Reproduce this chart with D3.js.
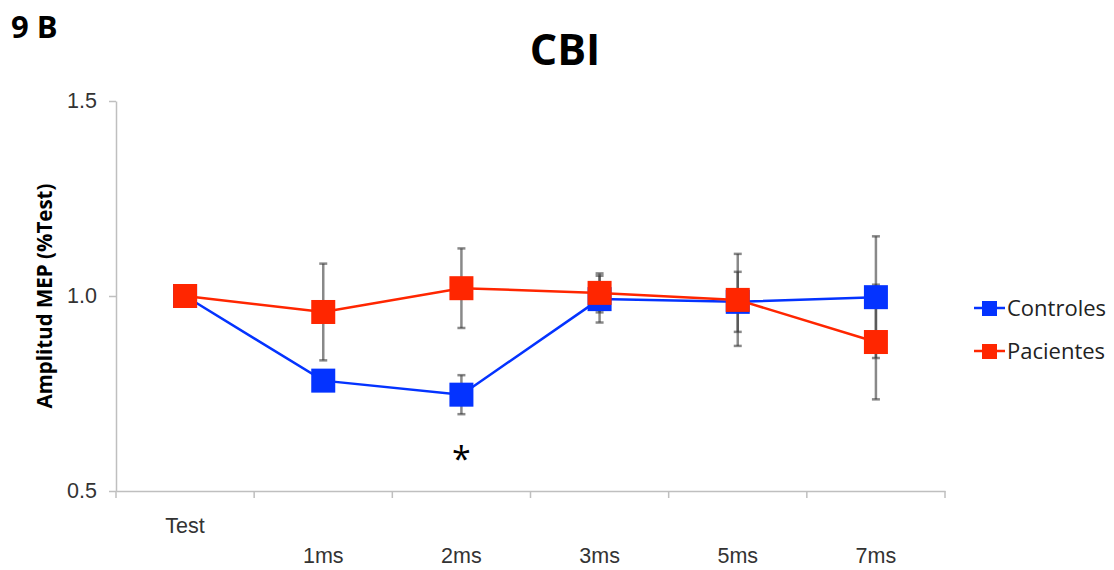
<!DOCTYPE html>
<html>
<head>
<meta charset="utf-8">
<script src="https://cdn.jsdelivr.net/npm/d3@7"></script>
<style>
  body { margin: 0; background: #fff; }
  svg { display: block; font-family: "Open Sans", sans-serif; }
  .axis path, .axis line { stroke: #bfbfbf; stroke-width: 1.5; }
  .axis text { fill: #333; font-size: 21.5px; }
</style>
</head>
<body>
<svg id="chart"></svg>
<script>
const categories = ["Test", "1ms", "2ms", "3ms", "5ms", "7ms"];
const controles = [1.0, 0.783, 0.747, 0.992, 0.985, 0.997];
const controlesErr = [0, 0.02, 0.05, 0.06, 0.077, 0.156];
const pacientes = [1.0, 0.959, 1.02, 1.008, 0.99, 0.882];
const pacientesErr = [0, 0.124, 0.102, 0.05, 0.118, 0.147];
const yTicks = [0.5, 1.0, 1.5];

const width = 1114, height = 570;
const margin = {left: 116, right: 169, top: 101, bottom: 79};

const svg = d3.select("#chart").attr("width", width).attr("height", height);

const x = d3.scaleBand().domain(categories).range([margin.left, width - margin.right]);
const y = d3.scaleLinear().domain([0.5, 1.5]).range([height - margin.bottom, margin.top]);

const series = [
    {name: "Controles", values: controles, err: controlesErr, color: "#0433ff"},
    {name: "Pacientes", values: pacientes, err: pacientesErr, color: "#ff2600"}
];

// y axis
svg.append("g")
    .attr("class", "axis y")
    .attr("transform", `translate(${margin.left},0)`)
    .call(d3.axisLeft(y).tickValues(yTicks).tickFormat(d3.format(".1f")).tickSize(7).tickSizeOuter(0).tickPadding(12));

// x axis: labels at band centres, staggered like Excel
let xAxis = svg.append("g")
    .attr("class", "axis x")
    .attr("transform", `translate(0,${y(0.5)})`)
    .call(d3.axisBottom(x).tickSize(0).tickSizeOuter(0));
xAxis.selectAll(".tick text")
    .attr("y", (d, i) => i === 0 ? 42 : 72)
    .attr("dy", 0);

// x axis boundary ticks
let bounds = categories.map(c => x(c)).concat([x(categories[categories.length - 1]) + x.bandwidth()]);
xAxis.selectAll(".bound")
    .data(bounds)
    .join("line")
    .attr("class", "bound")
    .attr("x1", d => d).attr("x2", d => d)
    .attr("y1", 0).attr("y2", 7);

// error bars
const cx = c => x(c) + x.bandwidth() / 2;
series.forEach(s => {
    let g = svg.append("g").attr("class", "err")
        .attr("stroke", "#3a3a3a").attr("stroke-opacity", 0.6).attr("stroke-width", 2.5);
    let pts = categories.map((c, i) => ({c, v: s.values[i], e: s.err[i]})).filter(d => d.e > 0);
    g.selectAll(".bar").data(pts).join("line")
        .attr("x1", d => cx(d.c)).attr("x2", d => cx(d.c))
        .attr("y1", d => y(d.v + d.e)).attr("y2", d => y(d.v - d.e));
    g.selectAll(".capT").data(pts).join("line")
        .attr("x1", d => cx(d.c) - 4).attr("x2", d => cx(d.c) + 4)
        .attr("y1", d => y(d.v + d.e)).attr("y2", d => y(d.v + d.e));
    g.selectAll(".capB").data(pts).join("line")
        .attr("x1", d => cx(d.c) - 4).attr("x2", d => cx(d.c) + 4)
        .attr("y1", d => y(d.v - d.e)).attr("y2", d => y(d.v - d.e));
});

// lines and markers
const line = d3.line().x(d => cx(d.c)).y(d => y(d.v));
const size = 24;
series.forEach(s => {
    let pts = categories.map((c, i) => ({c, v: s.values[i]}));
    svg.append("path")
        .datum(pts)
        .attr("d", line)
        .attr("fill", "none")
        .attr("stroke", s.color)
        .attr("stroke-width", 2.5);
    svg.append("g").selectAll("rect").data(pts).join("rect")
        .attr("x", d => cx(d.c) - size / 2)
        .attr("y", d => y(d.v) - size / 2)
        .attr("width", size).attr("height", size)
        .attr("fill", s.color);
});

// significance marker
svg.append("text")
    .attr("x", cx("2ms")).attr("y", 471)
    .attr("text-anchor", "middle")
    .style("font-size", "34px")
    .text("*");

// legend
let legend = svg.append("g").attr("transform", "translate(974,308)");
series.forEach((s, i) => {
    let g = legend.append("g").attr("transform", `translate(0,${i * 43})`);
    g.append("line").attr("x1", 0).attr("x2", 31).attr("stroke", s.color).attr("stroke-width", 2.5);
    g.append("rect").attr("x", 8).attr("y", -7).attr("width", 15).attr("height", 15).attr("fill", s.color);
    g.append("text").attr("x", 33).attr("dy", "0.36em")
        .style("font-size", "22px").attr("fill", "#222").text(s.name);
});

// titles
svg.append("text")
    .attr("x", 565).attr("y", 65)
    .attr("text-anchor", "middle")
    .style("font-size", "43px").style("font-weight", "bold")
    .text("CBI");

svg.append("text")
    .attr("x", 11).attr("y", 38)
    .style("font-size", "31px").style("font-weight", "bold")
    .text("9 B");

svg.append("text")
    .attr("transform", `translate(52,${y(1.0)}) rotate(-90)`)
    .attr("text-anchor", "middle")
    .style("font-size", "20.5px").style("font-weight", "bold")
    .text("Amplitud MEP (%Test)");
</script>
</body>
</html>
